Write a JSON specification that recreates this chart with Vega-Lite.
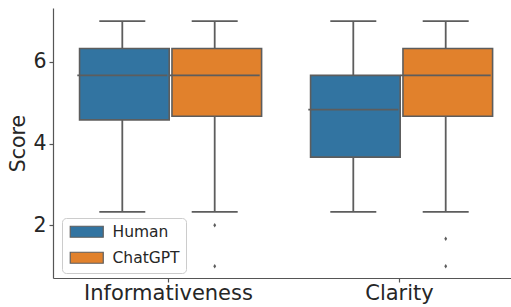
{
  "$schema": "https://vega.github.io/schema/vega-lite/v6.json",
  "width": 458,
  "height": 270,
  "autosize": "none",
  "padding": {"left": 53, "top": 8, "right": 0, "bottom": 29},
  "config": {
    "font": "DejaVu Sans",
    "view": {"stroke": null},
    "axis": {"domainColor": "#555555", "tickColor": "#555555", "labelColor": "#262626", "titleColor": "#262626", "grid": false, "domainWidth": 1.2, "tickWidth": 1.2}
  },
  "datasets": {
    "boxes": [
      {"category": "Informativeness", "group": "Human", "lower": 2.33, "q1": 4.58, "median": 5.67, "q3": 6.33, "upper": 7.0},
      {"category": "Informativeness", "group": "ChatGPT", "lower": 2.33, "q1": 4.67, "median": 5.67, "q3": 6.33, "upper": 7.0},
      {"category": "Clarity", "group": "Human", "lower": 2.33, "q1": 3.67, "median": 4.83, "q3": 5.67, "upper": 7.0},
      {"category": "Clarity", "group": "ChatGPT", "lower": 2.33, "q1": 4.67, "median": 5.67, "q3": 6.33, "upper": 7.0}
    ],
    "outliers": [
      {"category": "Informativeness", "group": "ChatGPT", "score": 2.0},
      {"category": "Informativeness", "group": "ChatGPT", "score": 1.0},
      {"category": "Clarity", "group": "ChatGPT", "score": 1.67},
      {"category": "Clarity", "group": "ChatGPT", "score": 1.0}
    ]
  },
  "encoding": {
    "x": {"field": "category", "type": "nominal", "sort": ["Informativeness", "Clarity"],
      "scale": {"paddingInner": 0, "paddingOuter": 0, "range": [0, 462]},
      "axis": {"title": null, "labelAngle": 0, "labelFontSize": 21, "tickSize": 4, "labelPadding": 0}},
    "xOffset": {"field": "group", "type": "nominal", "sort": ["Human", "ChatGPT"],
      "scale": {"paddingInner": 0, "paddingOuter": 0.25}}
  },
  "layer": [
    {
      "data": {"name": "boxes"},
      "mark": {"type": "rule", "color": "#5d5d5d", "strokeWidth": 1.8},
      "encoding": {
        "y": {"field": "lower", "type": "quantitative",
          "scale": {"domain": [0.71, 7.32], "nice": false, "zero": false},
          "axis": {"values": [2, 4, 6], "title": "Score", "titleFontSize": 20.5, "titleFontWeight": "normal", "labelFontSize": 20.5, "tickSize": 4, "labelPadding": 3, "titlePadding": 4}},
        "y2": {"field": "q1"}
      }
    },
    {
      "data": {"name": "boxes"},
      "mark": {"type": "rule", "color": "#5d5d5d", "strokeWidth": 1.8},
      "encoding": {
        "y": {"field": "q3", "type": "quantitative"},
        "y2": {"field": "upper"}
      }
    },
    {
      "data": {"name": "boxes"},
      "mark": {"type": "tick", "color": "#5d5d5d", "size": 46, "thickness": 1.8, "opacity": 1},
      "encoding": {"y": {"field": "lower", "type": "quantitative"}}
    },
    {
      "data": {"name": "boxes"},
      "mark": {"type": "tick", "color": "#5d5d5d", "size": 46, "thickness": 1.8, "opacity": 1},
      "encoding": {"y": {"field": "upper", "type": "quantitative"}}
    },
    {
      "data": {"name": "boxes"},
      "mark": {"type": "bar", "stroke": "#5d5d5d", "strokeWidth": 1.6, "width": {"band": 0.97}, "opacity": 1},
      "encoding": {
        "y": {"field": "q1", "type": "quantitative"},
        "y2": {"field": "q3"},
        "color": {"field": "group", "type": "nominal", "sort": ["Human", "ChatGPT"],
          "scale": {"domain": ["Human", "ChatGPT"], "range": ["#3274a1", "#e1812c"]},
          "legend": {"title": null, "orient": "none", "legendX": 9, "legendY": 210,
            "symbolType": "M-3,-1H3V1H-3Z", "symbolSize": 121, "symbolOffset": 11, "symbolStrokeColor": "#5d5d5d", "symbolStrokeWidth": 1.2, "symbolOpacity": 1,
            "labelFontSize": 15.5, "labelColor": "#262626", "labelOffset": 18, "rowPadding": 8,
            "fillColor": "white", "strokeColor": "#cccccc", "cornerRadius": 4, "padding": 6}}
      }
    },
    {
      "data": {"name": "boxes"},
      "mark": {"type": "tick", "color": "#5d5d5d", "size": 90, "thickness": 1.8, "opacity": 1},
      "encoding": {"y": {"field": "median", "type": "quantitative"}}
    },
    {
      "data": {"name": "outliers"},
      "mark": {"type": "point", "shape": "M0,-1L0.65,0L0,1L-0.65,0Z", "filled": true, "color": "#5d5d5d", "size": 20, "opacity": 1},
      "encoding": {"y": {"field": "score", "type": "quantitative"}}
    }
  ]
}
